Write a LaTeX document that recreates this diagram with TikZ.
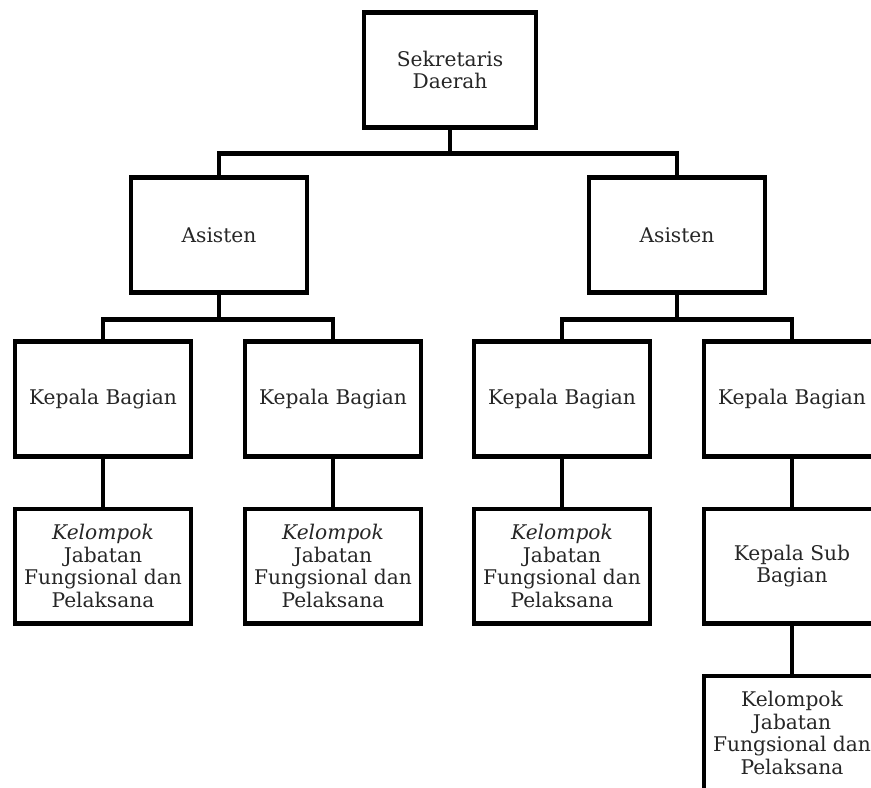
\documentclass[tikz,border=0pt]{standalone}
\usepackage{fontspec}
\setmainfont{DejaVu Serif}
\usetikzlibrary{positioning}

\begin{document}
\begin{tikzpicture}[
    x=0.02cm, y=-0.02cm,
    node distance=0.96cm,
    every node/.style={font=\fontsize{11.5}{12.8}\selectfont, text=black!85},
    % Org boxes
    orgbox/.style={
      rectangle, draw, line width=2.3pt,
      minimum width=3.52cm, minimum height=2.3cm,
      align=center, inner sep=1pt
    },
    % Connector lines
    link/.style={line width=2.3pt}
  ]

  % ============ Frame ============
  \useasboundingbox (0,0) rectangle (871,787);
  \clip (0,0) rectangle (871,787);

  % ============ Top ============
  \node[orgbox, minimum width=3.45cm] (sek) at (450,70) {Sekretaris\\Daerah};

  % ============ Asisten ============
  \node[orgbox] (asL) at (219,235) {Asisten};
  \node[orgbox] (asR) at (677,235) {Asisten};

  % ============ Kepala Bagian ============
  \node[orgbox] (kb1) at (103,399) {Kepala Bagian};
  \node[orgbox] (kb2) at (333,399) {Kepala Bagian};
  \node[orgbox] (kb3) at (562,399) {Kepala Bagian};
  \node[orgbox] (kb4) at (792,399) {Kepala Bagian};

  % ============ Lower levels ============
  \node[orgbox, below=of kb1] (kel1) {\textit{Kelompok}\\Jabatan\\Fungsional dan\\Pelaksana};
  \node[orgbox, below=of kb2] (kel2) {\textit{Kelompok}\\Jabatan\\Fungsional dan\\Pelaksana};
  \node[orgbox, below=of kb3] (kel3) {\textit{Kelompok}\\Jabatan\\Fungsional dan\\Pelaksana};
  \node[orgbox, below=of kb4] (ksb) {Kepala Sub\\Bagian};
  \node[orgbox, below=of ksb] (kel4) {Kelompok\\Jabatan\\Fungsional dan\\Pelaksana};

  % ============ Connectors ============
  \draw[link] (sek.south) -- ++(0,24) coordinate (busTop);
  \draw[link] (asL.north) |- (busTop) -| (asR.north);

  \draw[link] (asL.south) -- ++(0,25) coordinate (busL);
  \draw[link] (kb1.north) |- (busL) -| (kb2.north);

  \draw[link] (asR.south) -- ++(0,25) coordinate (busR);
  \draw[link] (kb3.north) |- (busR) -| (kb4.north);

  \draw[link] (kb1) -- (kel1);
  \draw[link] (kb2) -- (kel2);
  \draw[link] (kb3) -- (kel3);
  \draw[link] (kb4) -- (ksb);
  \draw[link] (ksb) -- (kel4);

\end{tikzpicture}
\end{document}
